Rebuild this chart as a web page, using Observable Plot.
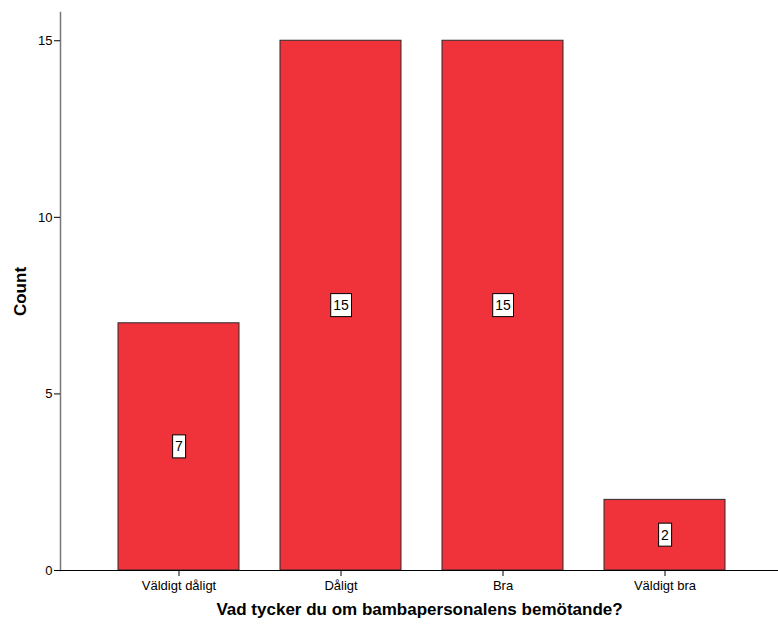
<!DOCTYPE html>
<html><head><meta charset="utf-8">
<script src="https://cdn.jsdelivr.net/npm/d3@7"></script>
<script src="https://cdn.jsdelivr.net/npm/@observablehq/plot@0.6"></script>
<style>
body{margin:0;background:#fff}
g[aria-label="x-axis label"] text, g[aria-label="y-axis label"] text{font-weight:bold;font-size:17px}
</style>
</head><body><div id="chart"></div><script>
const categories = ["Väldigt dåligt", "Dåligt", "Bra", "Väldigt bra"];
const counts = [7, 15, 15, 2];
const yTicks = [0, 5, 10, 15];
const xTitle = "Vad tycker du om bambapersonalens bemötande?";
const yTitle = "Count";

const data = categories.map((c, i) => ({category: c, count: counts[i]}));

const chart = Plot.plot({
  width: 778, height: 628,
  marginLeft: 60, marginRight: 0, marginTop: 12, marginBottom: 58,
  style: {fontFamily: "'Liberation Sans', Arial, sans-serif", fontSize: "13px", background: "#fff", color: "#000"},
  x: {domain: categories, range: [96.2, 746.8], paddingInner: 0.253, paddingOuter: 0.1265},
  y: {domain: [0, 15.8]},
  marks: [
    Plot.barY(data, {x: "category", y: "count", fill: "#F0323A", stroke: "#2b2b2b", strokeWidth: 1}),
    Plot.frame({anchor: "left", stroke: "#777", strokeWidth: 1.5}),
    Plot.ruleY([0], {stroke: "#000"}),
    Plot.axisY({ticks: yTicks, tickSize: 6, tickPadding: 2, tickFormat: "d", label: yTitle, labelAnchor: "center", labelOffset: 47, labelArrow: false}),
    Plot.axisX({tickSize: 6, tickPadding: 4, label: xTitle, labelAnchor: "center", labelOffset: 44, labelArrow: false}),
    Plot.text(data, {x: "category", y: d => d.count / 2, text: d => String(d.count), fontSize: 14, fill: "#000"})
  ]
});
document.getElementById("chart").appendChild(chart);

// remove any arrow Plot appends to axis labels
chart.querySelectorAll('g[aria-label="y-axis label"] text, g[aria-label="x-axis label"] text').forEach(t => {
  t.textContent = t.textContent.replace(/[↑↓→←]/g, "").trim();
});

// white boxes behind value labels
chart.querySelectorAll('g[aria-label="text"] text').forEach(t => {
  const b = t.getBBox();
  const r = document.createElementNS("http://www.w3.org/2000/svg", "rect");
  r.setAttribute("x", b.x - 2.5);
  r.setAttribute("y", b.y - 3.5);
  r.setAttribute("width", b.width + 5);
  r.setAttribute("height", b.height + 7);
  r.setAttribute("fill", "#fff");
  r.setAttribute("stroke", "#000");
  r.setAttribute("stroke-width", 1);
  const tr = t.getAttribute("transform");
  if (tr) r.setAttribute("transform", tr);
  t.parentNode.insertBefore(r, t);
});
</script></body></html>
